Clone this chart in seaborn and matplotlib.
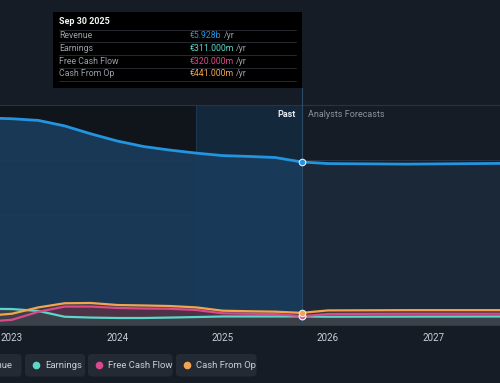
import matplotlib
matplotlib.use("Agg")

import pandas as pd

import matplotlib.pyplot as plt

import seaborn as sns

from matplotlib.patches import FancyBboxPatch, Rectangle
from matplotlib.lines import Line2D


# ==========================
# DATA (decimal years, values in € millions)
# ==========================

past_dates = [2022.75, 2023.0, 2023.25, 2023.5, 2023.75, 2024.0, 2024.25,
              2024.5, 2024.75, 2025.0, 2025.25, 2025.5, 2025.75]

revenue_past = [7530, 7500, 7440, 7240, 6950, 6690, 6490,
                6360, 6250, 6160, 6130, 6090, 5928]
earnings_past = [590, 580, 510, 300, 270, 255, 255,
                 270, 290, 310, 310, 310, 311]
fcf_past = [120, 190, 480, 670, 670, 620, 600,
            590, 545, 425, 410, 400, 320]
cfo_past = [330, 410, 640, 790, 800, 727, 710,
            690, 640, 520, 500, 485, 441]

fc_dates = [2025.75, 2026.0, 2026.75, 2027.75]

revenue_fc = [5928, 5870, 5850, 5880]
earnings_fc = [311, 300, 305, 310]
fcf_fc = [320, 400, 410, 410]
cfo_fc = [441, 530, 540, 540]

year_ticks = [2023, 2024, 2025, 2026, 2027]
y_ticks = [2000, 4000, 6000, 8000]

series_names = ["Revenue", "Earnings", "Free Cash Flow", "Cash From Op"]
tooltip_values = ["€5.928b", "€311.000m", "€320.000m", "€441.000m"]

colors = {
    "Revenue": "#2394e0",
    "Earnings": "#5cd6c8",
    "Free Cash Flow": "#d9498c",
    "Cash From Op": "#f2a54e",
}

BG = "#161c25"
PAST_DARK = "#10141b"
TEXT = "#c9ced6"

sns.set_style("dark")
plt.rcParams["font.family"] = ["Roboto", "DejaVu Sans"]

past = pd.DataFrame({
    "date": past_dates,
    "Revenue": revenue_past,
    "Earnings": earnings_past,
    "Free Cash Flow": fcf_past,
    "Cash From Op": cfo_past,
})

fc = pd.DataFrame({
    "date": fc_dates,
    "Revenue": revenue_fc,
    "Earnings": earnings_fc,
    "Free Cash Flow": fcf_fc,
    "Cash From Op": cfo_fc,
})

past_end = past_dates[-1]
highlight_start = 2024.75

x_min = 2023 - 12 / 105.3
x_max = 2023 + 488 / 105.3
y_top = 8000 * 237 / 220

fig = plt.figure(figsize=(5, 3.83), dpi=100)
fig.patch.set_facecolor(BG)

ax = fig.add_axes([0, 1 - 325 / 383, 1, 237 / 383])
ax.set_facecolor(BG)
ax.set_xlim(x_min, x_max)
ax.set_ylim(0, y_top)

# background regions
ax.fill_between([x_min, highlight_start], 0, 8000,
                color=PAST_DARK, zorder=0, linewidth=0)
ax.fill_between([highlight_start, past_end], 0, 8000,
                color="#14283b", zorder=0, linewidth=0)

# grid
for yv in y_ticks:
    ax.axhline(yv, color="#2a333f", linewidth=0.8, zorder=1)

ax.axvline(highlight_start, ymax=8000 / y_top,
           color="#1f3a55", linewidth=0.6, zorder=1)

# revenue fills
ax.fill_between(past["date"], 0, past["Revenue"],
                color="#1a3b5a", alpha=0.95, zorder=2, linewidth=0)
ax.fill_between(fc["date"], 0, fc["Revenue"],
                color="#1b2838", zorder=2, linewidth=0)

# small series fills
for frame in [past, fc]:

    ax.fill_between(frame["date"], 0, frame["Cash From Op"],
                    color="#5a3a3a", alpha=0.55, zorder=3, linewidth=0)

    ax.fill_between(frame["date"], 0, frame["Free Cash Flow"],
                    color="#5a2f45", alpha=0.6, zorder=3, linewidth=0)

    ax.fill_between(frame["date"], 0, frame["Earnings"],
                    color="#3b414a", alpha=0.95, zorder=3, linewidth=0)

# lines
for name in series_names:

    lw = 2.0 if name == "Revenue" else 1.6

    sns.lineplot(x=past["date"], y=past[name], ax=ax,
                 color=colors[name], linewidth=lw, zorder=5)

    sns.lineplot(x=fc["date"], y=fc[name], ax=ax,
                 color=colors[name], linewidth=lw, zorder=5)

    ax.scatter([past_end], [past[name].iloc[-1]], s=22,
               color=colors[name], edgecolor="#e8ecf0",
               linewidth=0.8, zorder=7)

# past / forecast divider
ax.axvline(past_end, color="#2b4a66", linewidth=0.8, zorder=4)

ax.text(past_end - 0.06, 7670, "Past", color="#e6e9ee",
        fontsize=6.5, fontweight="bold", ha="right", va="center")
ax.text(past_end + 0.06, 7670, "Analysts Forecasts", color="#8b929c",
        fontsize=6.5, ha="left", va="center")

ax.set_xticks(year_ticks)
ax.set_xticklabels([str(y) for y in year_ticks], color=TEXT, fontsize=7)
ax.set_yticks([])
ax.set_xlabel("")
ax.set_ylabel("")
ax.tick_params(axis="x", length=3, color="#3a424d", pad=3)
ax.grid(False)

for spine in ax.spines.values():
    spine.set_visible(False)

# ==========================
# TOOLTIP
# ==========================

W, H = 500, 383


def fx(px):
    return px / W


def fy(py):
    return 1 - py / H


fig.patches.append(Rectangle((fx(53), fy(88)), fx(302) - fx(53),
                             fy(12) - fy(88), transform=fig.transFigure,
                             facecolor="#000000", edgecolor="none",
                             zorder=10))

fig.text(fx(59), fy(22), "Sep 30 2025", color="#f2f4f7",
         fontsize=6.5, fontweight="bold", va="center", zorder=11)

row_y = [36, 48.5, 61, 73.5]
sep_y = [30, 42, 55, 68, 81]

for sy in sep_y:
    fig.lines.append(Line2D([fx(59), fx(296)], [fy(sy), fy(sy)],
                            transform=fig.transFigure, color="#2c3138",
                            linewidth=0.6, zorder=11))

for name, val, ry in zip(series_names, tooltip_values, row_y):

    fig.text(fx(59), fy(ry), name, color="#9aa0a8",
             fontsize=6.3, va="center", zorder=11)

    t = fig.text(fx(190), fy(ry), val, color=colors[name],
                 fontsize=6.3, va="center", zorder=11)

    fig.canvas.draw()
    bb = t.get_window_extent()
    fig.text(bb.x1 / W + fx(2), fy(ry), "/yr", color="#9aa0a8",
             fontsize=6.3, va="center", zorder=11)

# ==========================
# LEGEND
# ==========================

boxes = [(-20, 21.5), (25, 85), (88, 172.5), (176, 256.5)]
dot_x = [-8, 36, 99, 187]
label_x = [12.7, 45, 108.5, 196]

for name, (x0, x1), dx, lx in zip(series_names, boxes, dot_x, label_x):

    fig.patches.append(FancyBboxPatch(
        (fx(x0), fy(376.5)), fx(x1) - fx(x0), fy(354) - fy(376.5),
        boxstyle="round,pad=0,rounding_size=0.008",
        transform=fig.transFigure, facecolor="#232a33",
        edgecolor="none", zorder=10))

    fig.lines.append(Line2D([fx(dx)], [fy(365)], marker="o",
                            markersize=4.5, color=colors[name],
                            transform=fig.transFigure, zorder=11))

    if name == "Revenue":
        fig.text(fx(lx), fy(365), name, color=TEXT, fontsize=6.8,
                 ha="right", va="center", zorder=11)
    else:
        fig.text(fx(lx), fy(365), name, color=TEXT, fontsize=6.8,
                 ha="left", va="center", zorder=11)

fig.savefig("out.png", dpi=100, facecolor=BG)
plt.close(fig)
